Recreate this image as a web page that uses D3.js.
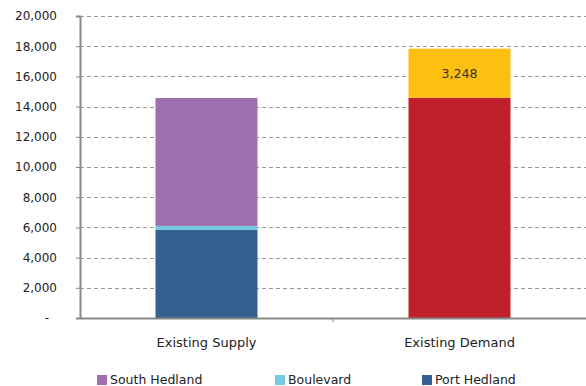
<!DOCTYPE html>
<html>
<head>
<meta charset="utf-8">
<script src="https://cdn.jsdelivr.net/npm/d3@7"></script>
<style>
  html, body { margin: 0; padding: 0; background: #fff; }
  svg { display: block; font-family: "DejaVu Sans", Verdana, sans-serif; }
</style>
</head>
<body>
<svg id="chart" width="586" height="386"></svg>
<script>
// Housing supply vs demand, stacked by component
const categories = ["Existing Supply", "Existing Demand"];
const seriesNames = ["Port Hedland", "Boulevard", "South Hedland", "Demand", "Shortfall"];
const portHedland   = [5830, 0];
const boulevard     = [270, 0];
const southHedland  = [8470, 0];
const demand        = [0, 14590];
const shortfall     = [0, 3248];
const yTicks = [0, 2000, 4000, 6000, 8000, 10000, 12000, 14000, 16000, 18000, 20000];
const legendItems = ["South Hedland", "Boulevard", "Port Hedland"];

const colors = {
  "Port Hedland": "#366092",
  "Boulevard": "#77C9DE",
  "South Hedland": "#A06FAE",
  "Demand": "#C0202A",
  "Shortfall": "#FDC010"
};

const rows = categories.map((c, i) => ({
  category: c,
  "Port Hedland": portHedland[i],
  "Boulevard": boulevard[i],
  "South Hedland": southHedland[i],
  "Demand": demand[i],
  "Shortfall": shortfall[i]
}));

const svg = d3.select("#chart");
const margin = { left: 80, right: 0, top: 16, bottom: 68 };
const W = 586, H = 386;

const x = d3.scaleBand().domain(categories).range([margin.left, W]).paddingInner(0).paddingOuter(0);
const y = d3.scaleLinear().domain([0, 20000]).range([H - margin.bottom, margin.top]);
const barW = 102;

// gridlines
svg.append("g").selectAll("line").data(yTicks.filter(d => d > 0)).join("line")
  .attr("x1", margin.left).attr("x2", W)
  .attr("y1", d => Math.round(y(d)) + 0.5).attr("y2", d => Math.round(y(d)) + 0.5)
  .attr("stroke", "#9a9a9a").attr("stroke-width", 1)
  .attr("stroke-dasharray", "4,3");

// stacked bars
const stack = d3.stack().keys(seriesNames)(rows);
svg.append("g").selectAll("g").data(stack).join("g")
  .attr("fill", s => colors[s.key])
  .selectAll("rect").data(s => s.filter(d => d[1] - d[0] > 0)).join("rect")
  .attr("x", d => x(d.data.category) + (x.bandwidth() - barW) / 2)
  .attr("width", barW)
  .attr("y", d => y(d[1]))
  .attr("height", d => y(d[0]) - y(d[1]));

// value label on shortfall segment
const sf = stack.find(s => s.key === "Shortfall");
svg.append("g").selectAll("text").data(sf.filter(d => d[1] - d[0] > 0)).join("text")
  .attr("x", d => x(d.data.category) + x.bandwidth() / 2)
  .attr("y", d => (y(d[0]) + y(d[1])) / 2)
  .attr("dy", "0.35em")
  .attr("text-anchor", "middle")
  .attr("font-size", 12.5)
  .attr("fill", "#333")
  .text(d => d3.format(",")(d.data.Shortfall));

// y axis
const yAxis = d3.axisLeft(y).tickValues(yTicks).tickSize(4).tickPadding(19)
  .tickFormat(d => d === 0 ? "-" : d3.format(",")(d));
const gy = svg.append("g").attr("transform", `translate(${margin.left},0)`).call(yAxis);
gy.select(".domain").attr("stroke", "#888").attr("stroke-width", 2);
gy.selectAll(".tick line").attr("stroke", "#888");
gy.selectAll(".tick text").attr("font-size", 12).attr("fill", "#222")
  .attr("font-family", "DejaVu Sans, sans-serif");
gy.selectAll(".tick text").filter(d => d === 0).attr("dx", -8);

// x axis
const xAxis = d3.axisBottom(x).tickSize(0).tickPadding(20);
const gx = svg.append("g").attr("transform", `translate(0,${H - margin.bottom})`).call(xAxis);
gx.select(".domain").attr("stroke", "#888").attr("stroke-width", 2);
gx.selectAll(".tick text").attr("font-size", 13).attr("fill", "#222")
  .attr("font-family", "DejaVu Sans, sans-serif");
// divider tick between categories
gx.append("line")
  .attr("x1", x(categories[1])).attr("x2", x(categories[1]))
  .attr("y1", 0).attr("y2", 4).attr("stroke", "#888");

// legend
const legendX = [97, 275, 422];
const lg = svg.append("g").selectAll("g").data(legendItems).join("g")
  .attr("transform", (d, i) => `translate(${legendX[i]},380)`);
lg.append("rect").attr("x", 0).attr("y", -5).attr("width", 10).attr("height", 10)
  .attr("fill", d => colors[d]);
lg.append("text").attr("x", 13).attr("dy", "0.35em").attr("font-size", 12.5)
  .attr("fill", "#222").text(d => d);
</script>
</body>
</html>
